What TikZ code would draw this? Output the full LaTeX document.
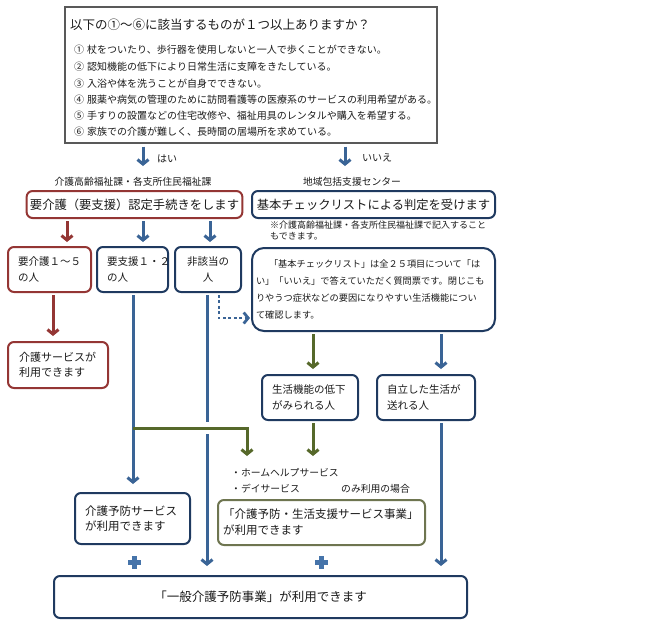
\documentclass[tikz,border=0pt]{standalone}
\usepackage{fontspec}
\setmainfont{Noto Sans CJK JP}
\usetikzlibrary{arrows.meta,calc}
\definecolor{navy}{HTML}{1F3A60}
\definecolor{arrowblue}{HTML}{3A6496}
\definecolor{plusblue}{HTML}{4674AA}
\definecolor{darkred}{HTML}{943634}
\definecolor{olive}{HTML}{56682A}
\definecolor{olivebox}{HTML}{6E7550}
\definecolor{txt}{HTML}{1A1A1A}
\newcommand\myfs[2]{\fontsize{#1}{#2}\selectfont}
\begin{document}
\begin{tikzpicture}[x=1pt,y=-1pt,
  box/.style={draw=navy,line width=2pt,rounded corners=6pt,fill=white,text=txt,
    inner ysep=1pt,align=left},
  redbox/.style={box,draw=darkred},
  olbox/.style={box,draw=olivebox},
  lbl/.style={inner sep=0pt,text=txt},
  arrB/.style={draw=arrowblue,line width=3pt,-{Straight Barb[length=4.5pt,width=11pt]}},
  lineB/.style={draw=arrowblue,line width=3pt},
  arrR/.style={arrB,draw=darkred},
  arrG/.style={arrB,draw=olive},
  dotB/.style={arrB,line width=2.8pt,dash pattern=on 2.8pt off 2.6pt}
]
\useasboundingbox (0,0) rectangle (655,633);

% top question box
\node[draw=black!65,line width=1.2pt,minimum width=372pt,minimum height=136pt,inner sep=0pt] (q) at (251,75) {};
\node[lbl,anchor=west,font=\myfs{12.5}{15}] (t0) at (70,25) {以下の①～⑥に該当するものが１つ以上ありますか？};
\node[lbl,anchor=west,font=\myfs{10}{12}] (i1) at (74,50) {①\hspace{3pt}杖をついたり、歩行器を使用しないと一人で歩くことができない。};
\node[lbl,anchor=west,font=\myfs{10}{12}] (i2) at (74,67) {②\hspace{3pt}認知機能の低下により日常生活に支障をきたしている。};
\node[lbl,anchor=west,font=\myfs{10}{12}] (i3) at (74,84) {③\hspace{3pt}入浴や体を洗うことが自身でできない。};
\node[lbl,anchor=west,font=\myfs{10}{12}] (i4) at (74,100) {④\hspace{3pt}服薬や病気の管理のために訪問看護等の医療系のサービスの利用希望がある。};
\node[lbl,anchor=west,font=\myfs{10}{12}] (i5) at (74,116) {⑤\hspace{3pt}手すりの設置などの住宅改修や、福祉用具のレンタルや購入を希望する。};
\node[lbl,anchor=west,font=\myfs{10}{12}] (i6) at (74,132) {⑥\hspace{3pt}家族での介護が難しく、長時間の居場所を求めている。};

% yes / no
\coordinate (yesT) at (143,166);
\coordinate (noT) at (345,166);
\draw[arrB,shorten <=3pt] (q.south -| yesT) -- (yesT);
\draw[arrB,shorten <=3pt] (q.south -| noT) -- (noT);
\node[lbl,anchor=west,font=\myfs{10}{12}] (yesL) at (157,159) {はい};
\node[lbl,anchor=west,font=\myfs{10}{12}] (noL) at (362,158) {いいえ};

% labels above boxes
\node[lbl,font=\myfs{9.8}{12}] (lblA) at (133,182) {介護高齢福祉課・各支所住民福祉課};
\node[lbl,font=\myfs{9.8}{12}] (lblB) at (352,182) {地域包括支援センター};

% second row boxes
\node[redbox,align=center,minimum width=215pt,minimum height=27pt,font=\myfs{12.3}{14}] (A) at (134.5,204.5) {要介護（要支援）認定手続きをします};
\node[box,align=center,minimum width=243pt,minimum height=27pt,font=\myfs{12.3}{14}] (B) at (373.5,204.5) {基本チェックリストによる判定を受けます};
\node[lbl,anchor=north west,align=left,font=\myfs{9}{11}] (note) at (270,221) {※介護高齢福祉課・各支所住民福祉課で記入すること\\もできます。};

% third row
\node[redbox,minimum width=83pt,minimum height=45pt,inner xsep=10pt,text width=63pt,font=\myfs{10.5}{16}] (C1) at (49.5,269.5) {要介護１～５\\の人};
\node[box,minimum width=71pt,minimum height=45pt,inner xsep=10pt,text width=51pt,font=\myfs{10.5}{16}] (C2) at (132.5,269.5) {要支援１・２\\の人};
\node[box,align=center,minimum width=66pt,minimum height=45pt,inner xsep=4pt,text width=58pt,font=\myfs{10.5}{16}] (C3) at (208,269.5) {非該当の\\人};
\node[box,rounded corners=12pt,minimum width=243pt,minimum height=83pt,inner xsep=4pt,text width=235pt,font=\myfs{9.2}{17.3}] (D) at (373.5,289.5) {\hspace*{13pt}「基本チェックリスト」は全２５項目について「は\\い」「いいえ」で答えていただく質問票です。閉じこも\\りやうつ症状などの要因になりやすい生活機能につい\\て確認します。};

% fourth row
\node[redbox,minimum width=100pt,minimum height=46pt,inner xsep=11pt,text width=78pt,font=\myfs{11}{15}] (G) at (58,365) {介護サービスが\\利用できます};
\node[box,minimum width=96pt,minimum height=45pt,inner xsep=10pt,text width=76pt,font=\myfs{10.5}{16}] (E1) at (310,397.5) {生活機能の低下\\がみられる人};
\node[box,minimum width=98pt,minimum height=45pt,inner xsep=10pt,text width=78pt,font=\myfs{10.5}{16}] (E2) at (426,397.5) {自立した生活が\\送れる人};

% bullets
\node[lbl,anchor=west,font=\myfs{9.8}{12}] (b1) at (231,473) {・ホームヘルプサービス};
\node[lbl,anchor=west,font=\myfs{9.8}{12}] (b2) at (231,489) {・デイサービス};
\node[lbl,anchor=west,font=\myfs{9.8}{12}] (b3) at (341,489) {のみ利用の場合};

% fifth row
\node[box,minimum width=115pt,minimum height=51pt,inner xsep=10pt,text width=95pt,font=\myfs{11.5}{15}] (H) at (132.5,518.5) {介護予防サービス\\が利用できます};
\node[olbox,minimum width=207pt,minimum height=45pt,inner xsep=5pt,text width=197pt,font=\myfs{11.5}{16}] (I) at (321.5,522.5) {「介護予防・生活支援サービス事業」\\が利用できます};

% bottom
\node[box,align=center,minimum width=413pt,minimum height=42pt,font=\myfs{12.5}{14}] (F) at (260.5,597) {「一般介護予防事業」が利用できます};

% plus signs
\fill[plusblue] (128,560) rectangle (141,564.5);
\fill[plusblue] (132.3,556) rectangle (136.8,568.5);
\fill[plusblue] (315,560) rectangle (328,564.5);
\fill[plusblue] (319.3,556) rectangle (323.8,568.5);

% connectors
\coordinate (xr) at (67,0);
\coordinate (xb1) at (143,0);
\coordinate (xb2) at (210,0);
\draw[arrR,shorten <=2pt,shorten >=4pt] (A.south -| xr) -- (C1.north -| xr);
\draw[arrB,shorten <=2pt,shorten >=4pt] (A.south -| xb1) -- (C2.north -| xb1);
\draw[arrB,shorten <=2pt,shorten >=4pt] (A.south -| xb2) -- (C3.north -| xb2);

\coordinate (xr2) at (53,0);
\draw[arrR,shorten <=2pt,shorten >=5pt] (C1.south -| xr2) -- (G.north -| xr2);

\coordinate (xv1) at (133,0);
\draw[arrB,shorten <=2pt,shorten >=8pt] (C2.south -| xv1) -- (H.north -| xv1);
\coordinate (jn) at (133,428);
\coordinate (gT) at (247,456);
\draw[arrG] (jn) -| (gT);

\coordinate (gapA) at (207,422);
\coordinate (gapB) at (207,434);
\draw[lineB,shorten <=2pt] (C3.south -| gapA) -- (gapA);
\draw[arrB,shorten >=9pt] (gapB) -- (F.north -| gapB);

\coordinate (dotK) at (219,318);
\draw[dotB,shorten <=2pt,shorten >=1pt] (C3.south -| dotK) |- (D.west |- dotK);

\coordinate (xg1) at (313,0);
\coordinate (xb3) at (441,0);
\draw[arrG,shorten <=2pt,shorten >=5pt] (D.south -| xg1) -- (E1.north -| xg1);
\draw[arrB,shorten <=2pt,shorten >=5pt] (D.south -| xb3) -- (E2.north -| xb3);
\coordinate (g2T) at (313,456);
\draw[arrG,shorten <=2pt] (E1.south -| g2T) -- (g2T);
\draw[arrB,shorten <=2pt,shorten >=9pt] (E2.south -| xb3) -- (F.north -| xb3);
\end{tikzpicture}
\end{document}
